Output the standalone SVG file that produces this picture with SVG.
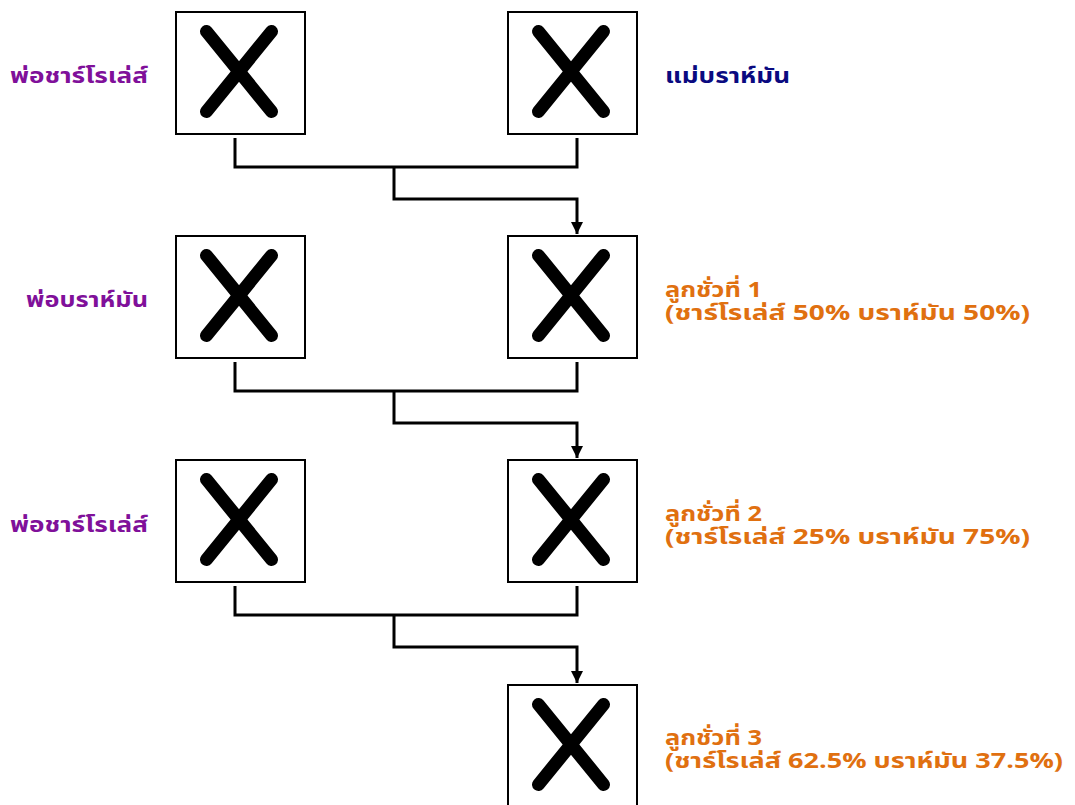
<svg xmlns="http://www.w3.org/2000/svg" width="1075" height="805" viewBox="0 0 1075 805">
  <defs>
    <style>
      .box { fill: #ffffff; stroke: #000000; stroke-width: 2; }
      .cross { stroke: #000000; stroke-width: 13; stroke-linecap: round; fill: none; }
      .wire { stroke: #000000; stroke-width: 3; fill: none; stroke-linejoin: miter; }
      .lbl { font-family: "Noto Sans Thai", "Noto Sans", "DejaVu Sans", sans-serif; font-weight: bold; font-size: 21px; }
      .sire { fill: #80109a; }
      .dam { fill: #0a0a80; }
      .gen { fill: #e07010; }
    </style>
    <!-- placeholder cross drawn inside each 129x122 box -->
    <g id="cross">
      <rect class="box" x="0" y="0" width="129" height="122"/>
      <line class="cross" x1="30.5" y1="19.5" x2="95.5" y2="99.5"/>
      <line class="cross" x1="95.5" y1="19.5" x2="30.5" y2="99.5"/>
    </g>
    <marker id="arrow" viewBox="0 0 12 12" refX="12" refY="6" markerWidth="12" markerHeight="12" markerUnits="userSpaceOnUse" orient="auto">
      <path d="M0,0 L12,6 L0,12 Z" fill="#000"/>
    </marker>
  </defs>

  <rect width="1075" height="805" fill="#ffffff"/>

  <!-- generation 0: parents -->
  <g id="sire-charolais-1">
    <use href="#cross" x="176" y="12"/>
    <text class="lbl sire" x="10" y="83" textLength="138" lengthAdjust="spacingAndGlyphs">พ่อชาร์โรเล่ส์</text>
  </g>
  <g id="dam-brahman">
    <use href="#cross" x="508" y="12"/>
    <text class="lbl dam" x="665" y="83" textLength="125" lengthAdjust="spacingAndGlyphs">แม่บราห์มัน</text>
  </g>

  <!-- generation 1 -->
  <g id="sire-brahman">
    <use href="#cross" x="176" y="236"/>
    <text class="lbl sire" x="26" y="307" textLength="122" lengthAdjust="spacingAndGlyphs">พ่อบราห์มัน</text>
  </g>
  <g id="offspring-1">
    <use href="#cross" x="508" y="236"/>
    <text class="lbl gen">
      <tspan x="665" y="297" textLength="97" lengthAdjust="spacingAndGlyphs">ลูกชั่วที่ 1</tspan>
      <tspan x="665" y="320" textLength="365" lengthAdjust="spacingAndGlyphs">(ชาร์โรเล่ส์ 50% บราห์มัน 50%)</tspan>
    </text>
  </g>

  <!-- generation 2 -->
  <g id="sire-charolais-2">
    <use href="#cross" x="176" y="460"/>
    <text class="lbl sire" x="10" y="532" textLength="138" lengthAdjust="spacingAndGlyphs">พ่อชาร์โรเล่ส์</text>
  </g>
  <g id="offspring-2">
    <use href="#cross" x="508" y="460"/>
    <text class="lbl gen">
      <tspan x="665" y="521" textLength="97" lengthAdjust="spacingAndGlyphs">ลูกชั่วที่ 2</tspan>
      <tspan x="665" y="544" textLength="365" lengthAdjust="spacingAndGlyphs">(ชาร์โรเล่ส์ 25% บราห์มัน 75%)</tspan>
    </text>
  </g>

  <!-- generation 3 -->
  <g id="offspring-3">
    <use href="#cross" x="508" y="685"/>
    <text class="lbl gen">
      <tspan x="665" y="745" textLength="97" lengthAdjust="spacingAndGlyphs">ลูกชั่วที่ 3</tspan>
      <tspan x="665" y="768" textLength="398" lengthAdjust="spacingAndGlyphs">(ชาร์โรเล่ส์ 62.5% บราห์มัน 37.5%)</tspan>
    </text>
  </g>

  <!-- mating connectors -->
  <g id="connectors">
    <path class="wire" d="M235,138 V167 H577 V138"/>
    <path class="wire" d="M394,167 V199 H577 V234" marker-end="url(#arrow)"/>
    <path class="wire" d="M235,362 V391 H577 V362"/>
    <path class="wire" d="M394,391 V423 H577 V458" marker-end="url(#arrow)"/>
    <path class="wire" d="M235,586 V615 H577 V586"/>
    <path class="wire" d="M394,615 V647 H577 V683" marker-end="url(#arrow)"/>
  </g>
</svg>
